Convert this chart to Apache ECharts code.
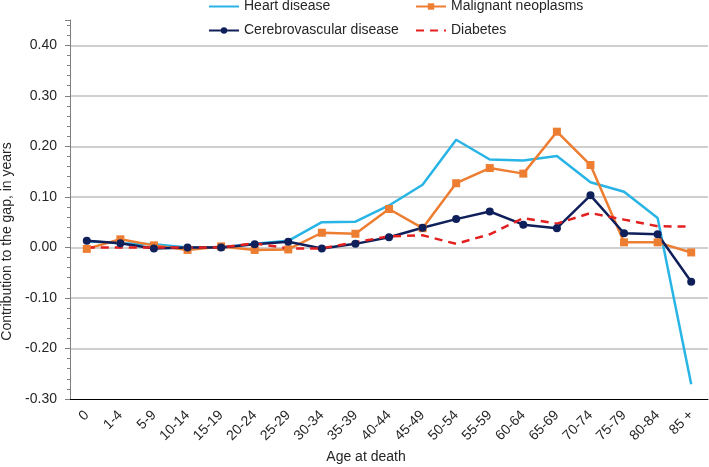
<!DOCTYPE html>
<html>
<head>
<meta charset="utf-8">
<script src="https://cdn.jsdelivr.net/npm/echarts@6/dist/echarts.min.js"></script>
<style>
  html, body { margin: 0; padding: 0; background: #fff; }
  #chart { width: 709px; height: 467px; }
</style>
</head>
<body>
<div id="chart"></div>
<script>
// age groups on the x axis
const ages = ['0', '1-4', '5-9', '10-14', '15-19', '20-24', '25-29', '30-34', '35-39', '40-44',
  '45-49', '50-54', '55-59', '60-64', '65-69', '70-74', '75-79', '80-84', '85 +']

// contribution to the gap (years)
const heartDisease = [0.012, 0.008, 0.006, 0.000, 0.000, 0.007, 0.013, 0.050, 0.051, 0.083,
  0.124, 0.213, 0.174, 0.172, 0.181, 0.129, 0.110, 0.058, -0.271]
const malignant = [-0.003, 0.016, 0.004, -0.005, 0.002, -0.005, -0.004, 0.029, 0.027, 0.076,
  0.038, 0.127, 0.157, 0.146, 0.229, 0.163, 0.010, 0.010, -0.010]
const cerebro = [0.013, 0.008, -0.002, 0.000, 0.000, 0.006, 0.011, -0.002, 0.007, 0.020,
  0.039, 0.056, 0.071, 0.045, 0.038, 0.103, 0.028, 0.026, -0.068]
const diabetes = [0.000, 0.000, 0.000, 0.000, 0.000, 0.008, -0.002, -0.002, 0.010, 0.022,
  0.024, 0.007, 0.026, 0.058, 0.047, 0.068, 0.055, 0.042, 0.041]

const font = 'Liberation Sans, Arial, sans-serif'
const textColor = '#262626'

const chart = echarts.init(document.getElementById('chart'))

// legend is two columns, so use two vertical legends
const legendBase = {
  orient: 'vertical',
  top: -2,
  padding: 0,
  itemWidth: 30,
  itemHeight: 8,
  itemGap: 7,
  textStyle: { fontFamily: font, fontSize: 14, color: textColor, lineHeight: 17 }
}
const noMarker = { opacity: 0 }  // line-only legend icons

const option = {
  animation: false,
  textStyle: { fontFamily: font },
  legend: [
    Object.assign({}, legendBase, {
      left: 208,
      data: [{ name: 'Heart disease', itemStyle: noMarker }, 'Cerebrovascular disease']
    }),
    Object.assign({}, legendBase, {
      left: 415,
      data: ['Malignant neoplasms', { name: 'Diabetes', itemStyle: noMarker }]
    })
  ],
  grid: {
    left: 70,
    right: 1,
    top: 20,
    bottom: 68,
    outerBoundsMode: 'none'
  },
  xAxis: {
    type: 'category',
    data: ages,
    boundaryGap: true,
    name: 'Age at death',
    nameLocation: 'middle',
    nameGap: 36,
    nameTextStyle: { fontSize: 14, color: textColor, padding: [0, 46, 0, 0] },
    axisLine: { onZero: false, lineStyle: { color: '#000', width: 1 } },
    axisTick: { alignWithLabel: true, length: 5, lineStyle: { color: '#000' } },
    axisLabel: { interval: 0, rotate: 45, fontSize: 14, color: textColor, margin: 14 },
    splitLine: { show: false }
  },
  yAxis: {
    type: 'value',
    min: -0.3,
    max: 0.45,
    interval: 0.1,
    name: 'Contribution to the gap, in years',
    nameLocation: 'middle',
    nameGap: 54,
    nameTextStyle: { fontSize: 14, color: textColor, padding: [0, 64, 0, 0] },
    axisLine: { show: true, lineStyle: { color: '#7f7f7f' } },
    axisTick: { show: true, length: 5, lineStyle: { color: '#7f7f7f' } },
    minorTick: { show: true, splitNumber: 5, length: 3, lineStyle: { color: '#7f7f7f' } },
    axisLabel: {
      fontSize: 14,
      color: textColor,
      margin: 13,
      showMaxLabel: false,
      formatter: v => v.toFixed(2)
    },
    splitLine: {
      show: true,
      showMinLine: false,
      showMaxLine: false,
      lineStyle: { color: '#bfbfbf', width: 1.5 }
    }
  },
  series: [
    {
      name: 'Heart disease',
      type: 'line',
      data: heartDisease,
      symbol: 'none',
      lineStyle: { color: '#29b4e6', width: 2.5 },
      itemStyle: { color: '#29b4e6' }
    },
    {
      name: 'Malignant neoplasms',
      type: 'line',
      data: malignant,
      symbol: 'rect',
      symbolSize: 8,
      lineStyle: { color: '#ed7d31', width: 2.5 },
      itemStyle: { color: '#ed7d31' }
    },
    {
      name: 'Cerebrovascular disease',
      type: 'line',
      data: cerebro,
      symbol: 'circle',
      symbolSize: 8,
      lineStyle: { color: '#0f1f5a', width: 2.5 },
      itemStyle: { color: '#0f1f5a' }
    },
    {
      name: 'Diabetes',
      type: 'line',
      data: diabetes,
      symbol: 'none',
      lineStyle: { color: '#e3201f', width: 2.5, type: [8, 6] },
      itemStyle: { color: '#e3201f' }
    }
  ]
}

chart.setOption(option)
</script>
</body>
</html>
